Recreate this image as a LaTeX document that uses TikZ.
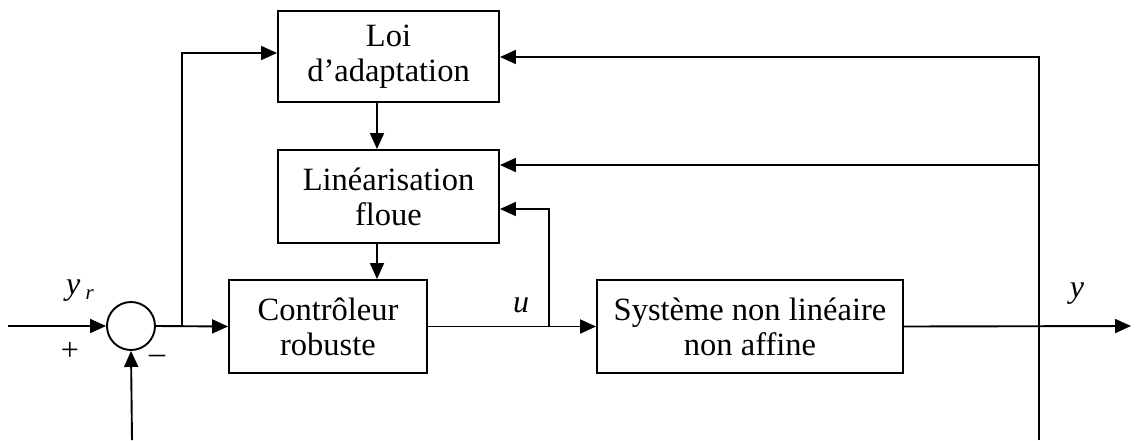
\documentclass[tikz,border=0pt]{standalone}
\usepackage{fontspec}
\setmainfont{Liberation Serif}
\usetikzlibrary{arrows.meta,calc}
\begin{document}
\begin{tikzpicture}[x=1pt,y=-1pt,
  line width=1.9pt,
  arr/.style={-{Triangle[length=16pt,width=14pt]}},
  blk/.style={draw,rectangle,align=center,inner sep=0pt,
    font=\fontsize{32.5pt}{35pt}\selectfont},
  lbl/.style={font=\fontsize{32pt}{35pt}\selectfont\itshape,inner sep=0pt},
  sgn/.style={font=\fontsize{32pt}{35pt}\selectfont,inner sep=0pt}]
\useasboundingbox (0,0) rectangle (1138,440);
% blocks
\node[blk,minimum width=221pt,minimum height=91pt] (loi) at (388.5,56.5) {Loi\\d’adaptation};
\node[blk,minimum width=221pt,minimum height=93pt] (lin) at (388.5,196.5) {Linéarisation\\floue};
\node[blk,minimum width=198pt,minimum height=93pt] (ctrl) at (328,326.5) {Contrôleur\\robuste};
\node[blk,minimum width=306pt,minimum height=93pt] (sys) at (750,326.5) {Système non linéaire\\non affine};
\node[draw,circle,minimum size=48pt,inner sep=0pt] (sum) at (131,326) {};
% coordinates
\coordinate (in) at (8,326);
\coordinate (br) at (182,326);
\coordinate (brtop) at (182,53);
\coordinate (ub) at (549,326);
\coordinate (ubtop) at (549,209);
\coordinate (out) at (1131,326);
\coordinate (rb) at (1039,440);
\coordinate (rtop) at (1039,57);
\coordinate (rmid) at (1039,165);
\coordinate (fb) at (132,440);
% connectors
\draw[arr] (in) -- (sum.west);
\draw[arr] (sum.east) -- (ctrl.west);
\draw[arr] (br) -- (brtop) -- (loi.west |- brtop);
\draw[arr] (loi.south -| 377,0) -- (lin.north -| 377,0);
\draw[arr] (lin.south -| 377,0) -- (ctrl.north -| 377,0);
\draw[arr] (ctrl.east) -- (sys.west);
\draw[arr] (ub) -- (ubtop) -- (lin.east |- ubtop);
\draw[arr] (sys.east) -- (out);
\draw[arr] (rb) -- (rtop) -- (loi.east |- rtop);
\draw[arr] (rmid) -- (lin.east |- rmid);
\draw[arr] (fb) -- (sum.south);
% labels
\node[lbl] (yr) at (80,291) {y\,\raisebox{-5pt}{\fontsize{21pt}{21pt}\selectfont r}};
\node[sgn] (plus) at (70,351) {+};
\node[sgn] (minus) at (157,359) {–};
\node[lbl] (ulbl) at (521,305) {u};
\node[lbl] (ylbl) at (1077,294) {y};
\end{tikzpicture}
\end{document}
